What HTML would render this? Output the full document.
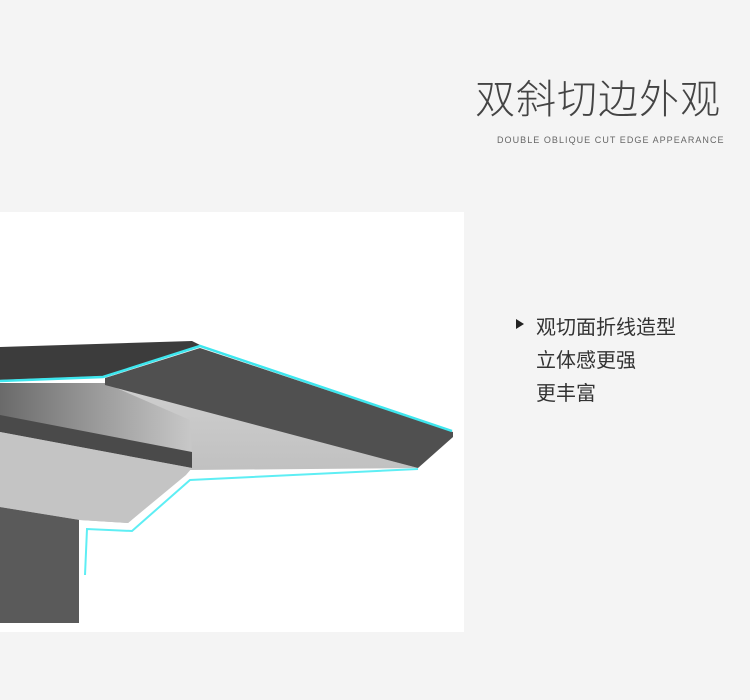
<!DOCTYPE html>
<html><head><meta charset="utf-8"><style>
body{margin:0;width:750px;height:700px;background:#f4f4f4;position:relative;overflow:hidden;font-family:"Liberation Sans","Noto Sans CJK SC",sans-serif}
.t{position:absolute;left:475px;top:70px;font-size:40px;color:#444;font-weight:300;letter-spacing:1px;white-space:nowrap;font-family:"Noto Sans CJK SC",sans-serif;line-height:52px}
.s{position:absolute;left:497px;top:135px;font-size:9px;color:#666;letter-spacing:1.05px;white-space:nowrap}
.b{position:absolute;left:536px;font-size:20px;color:#333;white-space:nowrap;line-height:24px;font-family:"Noto Sans CJK SC",sans-serif}
</style></head><body>
<div class="t">双斜切边外观</div>
<div class="s">DOUBLE OBLIQUE CUT EDGE APPEARANCE</div>
<div style="position:absolute;left:516px;top:319px;width:0;height:0;border-left:8px solid #222;border-top:5px solid transparent;border-bottom:5px solid transparent"></div>
<div class="b" style="top:314px">观切面折线造型</div>
<div class="b" style="top:347px">立体感更强</div>
<div class="b" style="top:380px">更丰富</div>
<svg style="position:absolute;left:0;top:212px" width="464" height="420" viewBox="0 212 464 420">
<defs>
<linearGradient id="g1" x1="0" y1="0" x2="1" y2="0"><stop offset="0" stop-color="#6a6a6a"/><stop offset="0.5" stop-color="#9a9a9a"/><stop offset="1" stop-color="#c8c8c8"/></linearGradient>
<linearGradient id="g2" x1="0" y1="0" x2="0" y2="1"><stop offset="0" stop-color="#cfcfcf"/><stop offset="1" stop-color="#b8b8b8"/></linearGradient>
</defs>
<rect x="0" y="212" width="464" height="420" fill="#fff"/>
<rect x="0" y="505" width="79" height="118" fill="#5a5a5a"/>
<polygon points="0,383 105,383 418,468 190,470 128,523 80,520 0,507" fill="url(#g2)"/>
<polygon points="0,383 105,383 190,420 192,455 0,420" fill="url(#g1)"/>
<polygon points="0,415 192,452 192,468 0,432" fill="#4a4a4a"/>
<polygon points="0,432 192,468 186,475 128,523 80,520 0,507" fill="#c4c4c4"/>
<polygon points="0,347 192,341 200,345 105,376 0,380" fill="#3c3c3c"/>
<polygon points="105,378 200,348 453,432 453,437 418,468 105,385" fill="#505050"/>
<polyline points="0,381 103,377 200,346 452,431" fill="none" stroke="#3ee6ee" stroke-width="2.5"/>
<polyline points="418,469 190,480 132,531 87,529 85,575" fill="none" stroke="#5eeef4" stroke-width="2"/>
</svg>
</body></html>
